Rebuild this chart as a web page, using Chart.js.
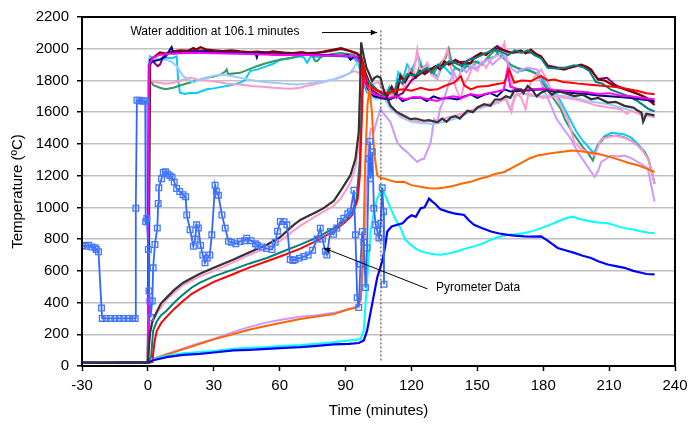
<!DOCTYPE html>
<html>
    <head>
        <title>Temperature</title>
        <meta charset="UTF-8">
        <script src="https://cdn.jsdelivr.net/npm/chart.js@4.4.0/dist/chart.umd.min.js"></script>
        <style>
            body { margin: 0; background: #fff; }
        </style>
    </head>
    <body>
        <canvas id="myChart" width="697" height="427"></canvas>
        <script>
            // tick labels
            const xTicks = [-30, 0, 30, 60, 90, 120, 150, 180, 210, 240];
            const yTicks = [0, 200, 400, 600, 800, 1000, 1200, 1400, 1600, 1800, 2000, 2200];

            // before heating, all thermocouples sit near room temperature
            const preheat = [[-30, 22], [-20, 20], [-10, 23], [-1, 21]];

            const maroon = [[0, 20], [0.4, 900], [1, 1930], [3, 1950], [5.5, 1977], [8, 1970], [11.6, 1983], [15, 1990], [18, 1985], [20.7, 2004], [22, 1995], [24, 2010], [26.8, 1994], [30, 1990], [34, 1985], [38, 1990], [42, 1983], [46, 1978], [50, 1982], [54, 1975], [57, 1983], [62, 1976], [66, 1972], [70, 1978], [72.5, 1973], [76, 1970], [80, 1982], [84.6, 1994], [88, 2004], [91, 1990], [95, 1973], [97, 1950], [99, 1850], [101, 1780], [104, 1740], [107, 1720], [109, 1700], [111, 1760], [113, 1700], [115, 1827], [117, 1790], [119.6, 1848], [122, 1820], [124, 1860], [126, 1840], [128.8, 1869], [131, 1890], [133, 1870], [135, 1920], [137, 1900], [140, 1930], [143, 1905], [147, 1911], [149, 1950], [151.6, 1973], [154, 1960], [156, 1985], [159.2, 2004], [162, 1990], [165.3, 1973], [168, 1985], [170, 1988], [172, 1970], [174.4, 1994], [177, 1965], [179, 1952], [182, 1890], [185, 1880], [189.6, 1869], [193, 1885], [197.3, 1900], [200, 1885], [201.8, 1869], [204.9, 1806], [208, 1800], [212.5, 1765], [216, 1750], [220.1, 1734], [224, 1710], [227, 1690], [230.7, 1645]];

            const navy = [[0, 20], [0.5, 1900], [2, 1920], [5.5, 1931], [8, 1950], [10.8, 2010], [11.6, 1970], [15, 1975], [20, 1980], [26.8, 1983], [30, 1978], [40, 1975], [49, 1970], [49.6, 1945], [50.2, 1972], [57.2, 1963], [65, 1965], [72, 1962], [80, 1960], [88, 1955], [91, 1960], [92.2, 1931], [94, 1950], [96, 1940], [98, 1850], [100, 1750], [103, 1700], [106, 1690], [110, 1680], [113.5, 1702], [116, 1670], [120, 1690], [124.2, 1692], [127, 1670], [130, 1700], [133, 1685], [137, 1690], [141, 1680], [144, 1700], [147, 1713], [150, 1690], [153, 1710], [156, 1720], [159, 1700], [162.3, 1744], [165, 1730], [170, 1735], [175, 1740], [180, 1745], [185, 1730], [190, 1725], [195, 1720], [200, 1715], [205, 1705], [210, 1700], [215, 1695], [220, 1690], [225, 1680], [230.7, 1670]];

            const magenta = [[0, 20], [0.6, 1900], [2, 1940], [5, 1960], [10, 1968], [20, 1975], [30, 1972], [40, 1968], [50, 1965], [60, 1960], [70, 1962], [80, 1958], [90, 1955], [95, 1950], [97, 1900], [99, 1780], [102, 1720], [106, 1700], [110, 1690], [113, 1700], [117, 1680], [121, 1695], [124.2, 1692], [128, 1680], [131.8, 1671], [135, 1690], [139, 1700], [143, 1690], [147, 1713], [151, 1705], [155, 1720], [159, 1730], [162, 1740], [163.7, 1869], [165, 1760], [170, 1740], [175, 1745], [180, 1750], [185, 1740], [190, 1735], [195, 1730], [200, 1725], [205, 1715], [210, 1720], [215, 1705], [220, 1700], [225, 1690], [230.7, 1681]];

            const purple = [[0, 20], [0.5, 1850], [1.5, 1930], [3, 1910], [4.5, 1890], [5.5, 1900], [7, 1950], [10, 1975], [15, 1985], [20, 1990], [30, 1985], [40, 1980], [50, 1978], [60, 1975], [70, 1972], [80, 1978], [85, 1990], [88, 1998], [92, 1985], [95, 1970], [97, 1930], [99, 1820], [102, 1740], [106, 1700], [110, 1680], [113.7, 1704], [116, 1720], [120, 1800], [125, 1850], [130, 1880], [135, 1900], [140, 1915], [145, 1920], [150, 1960], [155, 1975], [159, 2017], [162, 1990], [166, 1975], [170, 1980], [175, 1975], [179, 1950], [182, 1895], [187, 1880], [192, 1880], [197, 1895], [202, 1860], [205, 1810], [209, 1817], [213, 1770], [218, 1740], [223, 1715], [227, 1690], [230.7, 1660]];

            const teal = [[0, 20], [1.5, 60], [2.4, 223], [4, 280], [6, 320], [8.5, 348], [12, 400], [16, 450], [20, 495], [23.7, 525], [30, 565], [39, 609], [46, 645], [54.2, 681], [62, 725], [69.4, 765], [77, 810], [84.6, 869], [90, 920], [93, 970], [95, 1050], [96.5, 1300], [97.5, 1700], [98.5, 1850], [100, 1800], [103, 1760], [106, 1720], [108, 1700], [110, 1740], [112, 1720], [114, 1800], [116, 1780], [118, 1840], [121, 1830], [124, 1850], [127, 1880], [129, 1850], [132, 1900], [134, 1880], [137, 1920], [140, 1910], [143, 1890], [146, 1930], [149, 1940], [152, 1960], [155, 1980], [158, 1995], [161, 1980], [164, 1960], [167, 1990], [170, 1975], [173, 1990], [176, 1960], [179, 1940], [182, 1880], [186, 1875], [190, 1880], [194, 1895], [198, 1885], [201, 1860], [204, 1790], [207, 1780], [211, 1740], [215, 1720], [219, 1700], [223, 1670], [226, 1640], [228, 1620], [230.7, 1605]];

            const red = [[0, 20], [2, 25], [3, 150], [4, 220], [6, 270], [8.5, 310], [12, 360], [16, 410], [20, 455], [23.7, 484], [30, 530], [39, 580], [46, 620], [54.2, 660], [62, 700], [69.4, 740], [77, 790], [84.6, 850], [90, 910], [93, 950], [95.5, 1050], [96.5, 1200], [97.5, 1600], [98, 1900], [98.7, 1850], [99.5, 1780], [101, 1760], [104, 1740], [107, 1720], [110.5, 1723], [113, 1740], [116.6, 1744], [120, 1735], [124.2, 1754], [128, 1740], [131.8, 1744], [135, 1765], [139.4, 1786], [142.5, 1827], [144, 1770], [147, 1744], [150, 1760], [154.7, 1765], [158, 1775], [162.3, 1786], [164.5, 1869], [166.8, 1786], [170, 1800], [174.4, 1796], [179, 1827], [182, 1800], [185, 1806], [189, 1790], [192.7, 1786], [196, 1780], [200.3, 1775], [204, 1770], [207.9, 1765], [212, 1760], [215.5, 1754], [219, 1745], [223.1, 1734], [227, 1720], [230.7, 1713]];

            const darkGray = [[0, 20], [0.5, 120], [0.9, 204], [2, 280], [4, 340], [6, 395], [8.5, 431], [12, 480], [16.1, 525], [20, 555], [23.7, 581], [30, 619], [39, 671], [46, 715], [54.2, 765], [60, 810], [66.4, 890], [69.4, 921], [73, 945], [77, 973], [80, 995], [84.6, 1040], [88, 1110], [92.2, 1202], [94.5, 1306], [96, 1473], [96.6, 1750], [97.1, 2040], [97.6, 2000], [98.3, 1952], [99.5, 1880], [100.6, 1848], [102.1, 1796], [103, 1815], [104.4, 1827], [105.9, 1817], [107.5, 1734], [110.5, 1640], [113, 1605], [115.1, 1588], [119.6, 1556], [122, 1560], [125.7, 1546], [128, 1550], [131.8, 1536], [134, 1560], [136, 1540], [137.9, 1567], [140, 1575], [142, 1560], [145.5, 1609], [148, 1600], [150, 1630], [153.1, 1650], [156, 1640], [158, 1680], [160.7, 1681], [163, 1700], [165, 1690], [167, 1740], [169.9, 1744], [171, 1720], [172.9, 1765], [175, 1740], [177, 1700], [179, 1723], [182, 1740], [184, 1710], [186.6, 1734], [190, 1720], [194.2, 1702], [198, 1710], [201.8, 1681], [205, 1690], [209.4, 1661], [213, 1665], [217, 1640], [221, 1629], [223, 1610], [224.7, 1598], [225.5, 1540], [227, 1590], [230.7, 1580]];

            const lightBlue = [[0, 20], [0.4, 1850], [0.9, 1942], [4, 1935], [8.5, 1931], [11, 1915], [13.1, 1890], [16.1, 1827], [20.7, 1786], [23, 1800], [26.8, 1817], [30, 1830], [34.4, 1838], [38, 1828], [42, 1817], [46, 1805], [49.6, 1796], [53, 1790], [57.2, 1786], [62, 1780], [67.9, 1775], [72, 1780], [75.5, 1786], [80, 1795], [84.6, 1806], [89, 1825], [92.2, 1848], [95.3, 1911], [97, 1900], [99, 1780], [101, 1700], [104, 1680], [106, 1700], [108, 1680], [110.5, 1620], [115, 1570], [120, 1540], [125, 1530], [130, 1525], [135, 1540], [140, 1560], [145, 1590], [150, 1620], [155, 1640], [160, 1660], [163, 1700], [165, 1620], [167, 1700], [170, 1720], [175, 1700], [180, 1700], [185, 1710], [190, 1700], [195, 1690], [200, 1670], [205, 1660], [210, 1650], [215, 1630], [220, 1610], [225, 1590], [230.7, 1570]];

            const pinkRise = [[0, 20], [0.3, 100], [0.8, 200], [2, 270], [4, 330], [8.5, 420], [16, 510], [23.7, 565], [30, 600], [39, 655], [46, 700], [54.2, 745], [60, 785], [66, 850], [70, 890], [77, 950], [84.6, 1010], [88, 1060], [92, 1150], [94.5, 1250], [96, 1400], [97, 1700], [98, 1820], [99.5, 1780], [101, 1760], [103, 1780], [105, 1790], [107, 1740], [110, 1650], [113, 1600], [116, 1570], [120, 1550], [125, 1540], [130, 1545], [135, 1560], [140, 1580], [145, 1600], [150, 1625], [155, 1650], [160, 1670], [163, 1680], [165.5, 1600], [167, 1700], [170, 1720], [175, 1710], [180, 1690], [185, 1700], [190, 1690], [195, 1680], [200, 1660], [205, 1640], [210, 1630], [215, 1620], [218, 1590], [220, 1610], [225, 1580], [230.7, 1570]];

            const pinkHigh = [[0, 20], [0.4, 1780], [0.9, 1806], [3, 1790], [5.5, 1786], [8, 1780], [11.6, 1786], [15, 1800], [19.2, 1817], [23, 1805], [26.8, 1800], [32, 1790], [36, 1780], [42, 1775], [47, 1765], [52, 1760], [57.2, 1754], [62, 1750], [65, 1748], [69.4, 1754], [72, 1765], [75.5, 1775], [80, 1790], [84.6, 1806], [88, 1825], [91, 1840], [93.8, 1859], [96, 1850], [98, 1800], [100, 1750], [102, 1730], [105, 1720], [108, 1740], [111, 1700], [113, 1760], [115, 1800], [117, 1750], [119, 1880], [120.5, 1800], [122.6, 1994], [124, 1850], [125.5, 1880], [127.2, 1911], [129, 1840], [131.8, 1806], [133, 1880], [135, 1940], [136.4, 1994], [138, 1880], [140, 1760], [142.5, 1681], [144, 1780], [146, 1820], [148, 1900], [150, 1860], [152, 1920], [154, 1880], [156, 1930], [158, 1950], [160, 1960], [162.3, 2036], [164, 1900], [165.5, 1800], [166.8, 1681], [168, 1720], [170, 1690], [172, 1619], [174, 1780], [176, 1820], [179, 1869], [181, 1820], [183, 1760], [185, 1723], [188, 1640], [191.2, 1556], [194.2, 1411], [197, 1370], [200.3, 1348], [203.4, 1327], [206.4, 1431], [209, 1440], [212.5, 1452], [215, 1445], [218.6, 1431], [221, 1410], [224.7, 1369], [227.7, 1306], [229.5, 1220], [230.7, 1150]];

            const skyBlue = [[0, 20], [0.3, 1900], [0.9, 1952], [4, 1931], [8, 1945], [11, 1940], [13.1, 1952], [13.8, 1800], [14.6, 1723], [17, 1715], [19.2, 1723], [22, 1720], [26.8, 1744], [30, 1750], [33, 1758], [35.9, 1765], [39, 1775], [42, 1786], [44, 1800], [46.6, 1859], [50, 1870], [54.2, 1890], [57, 1905], [60.3, 1931], [65, 1940], [69.4, 1952], [71, 1945], [72.5, 1911], [74, 1950], [78, 1950], [82, 1955], [87.7, 1952], [93.8, 1942], [96, 1900], [98, 1780], [100, 1720], [103, 1700], [106, 1690], [108, 1710], [110, 1760], [112, 1700], [114, 1850], [116, 1800], [118, 1900], [120, 1860], [123, 1960], [125, 1880], [127, 1900], [130, 1850], [132, 1820], [134, 1900], [136, 1870], [138, 1840], [140, 1880], [142, 1860], [145, 1900], [147, 1870], [150, 1920], [152, 1900], [155, 1940], [158, 1950], [160, 1990], [162, 1950], [165, 1900], [168, 1880], [170, 1860], [173, 1870], [176, 1850], [179, 1830], [181, 1780], [183, 1740], [186, 1720], [189, 1640], [192, 1560], [195, 1480], [198, 1420], [200, 1390], [203, 1340], [205, 1400], [207.9, 1450], [211, 1470], [214, 1465], [217, 1460], [220.1, 1440], [223, 1400], [226.2, 1348], [228, 1300], [230.7, 1150]];

            const seaGreen = [[0, 20], [0.5, 300], [0.9, 1806], [2.5, 1770], [5.5, 1754], [8, 1745], [11.6, 1754], [15, 1770], [20, 1790], [26.8, 1817], [30, 1825], [33, 1835], [35.5, 1860], [35.9, 1869], [36.5, 1840], [42, 1848], [46, 1870], [49.6, 1890], [53, 1905], [57.2, 1921], [60, 1930], [64.8, 1942], [69, 1955], [72.5, 1963], [75, 1960], [76, 1925], [77, 1921], [79, 1950], [83, 1965], [87.7, 1973], [93.8, 1963], [96, 1920], [98, 1800], [100, 1730], [103, 1700], [106, 1700], [109, 1720], [111, 1760], [113, 1700], [115, 1840], [117, 1800], [120, 1870], [122, 1820], [124, 1900], [126, 1860], [128, 1880], [130, 1840], [132, 1890], [134, 1920], [135.5, 1940], [137, 2000], [138.5, 1900], [140, 1880], [143, 1860], [146, 1900], [149, 1920], [152, 1900], [155, 1950], [158, 1990], [160, 1960], [162, 1940], [165, 1900], [168, 1880], [171, 1870], [174, 1860], [177, 1840], [180, 1780], [183, 1720], [185, 1680], [188, 1620], [190, 1550], [193, 1480], [195, 1440], [198, 1380], [200, 1350], [202.6, 1296], [204.9, 1390], [207.9, 1442], [211, 1450], [214, 1452], [217, 1440], [220.1, 1421], [223, 1390], [226.2, 1348], [228, 1300], [230.7, 1150]];

            const lavender = [[0, 20], [1, 25], [3, 50], [8.5, 75], [16, 110], [23.7, 145], [30, 170], [39, 215], [46, 245], [54.2, 275], [62, 295], [69.4, 310], [77, 320], [84.6, 335], [91.5, 360], [95, 375], [97, 450], [99, 900], [100.5, 1400], [101.5, 1494], [103, 1480], [104.5, 1560], [105.9, 1619], [108, 1580], [110.5, 1536], [113.5, 1411], [116, 1370], [118.1, 1348], [120, 1320], [122.7, 1286], [124, 1300], [125.7, 1306], [127, 1350], [128.8, 1411], [130.3, 1556], [131.8, 1536], [133, 1620], [134.8, 1681], [137, 1780], [139.4, 1848], [141, 1800], [143, 1880], [145, 1850], [147, 1890], [149, 1870], [151, 1900], [154.7, 1931], [157, 1900], [160, 1940], [162.3, 1952], [164, 1900], [166, 1870], [168.3, 1848], [170, 1869], [173, 1880], [177.4, 1869], [179, 1786], [181, 1720], [183.6, 1640], [186, 1560], [189, 1500], [192.7, 1431], [195.7, 1348], [198.8, 1286], [201, 1240], [203.4, 1192], [205, 1230], [206.4, 1286], [208, 1300], [210.9, 1327], [214, 1320], [217, 1327], [220, 1310], [223.1, 1286], [225, 1270], [227.6, 1244], [229, 1150], [230.7, 1036]];

            const orange = [[0, 20], [1, 25], [3, 45], [8.5, 73], [16, 105], [23.7, 140], [30, 168], [39, 202], [46, 228], [54.2, 254], [62, 276], [69.4, 296], [77, 312], [84.6, 327], [91.5, 358], [95.3, 369], [97, 420], [98, 700], [99, 1300], [100, 1650], [101, 1748], [102, 1600], [103, 1350], [104.4, 1202], [106, 1185], [108, 1181], [110, 1170], [113, 1160], [116.6, 1161], [120, 1140], [124, 1130], [128, 1120], [131.8, 1119], [135, 1125], [139, 1135], [143, 1150], [147, 1161], [151, 1180], [155, 1195], [158, 1210], [162.3, 1223], [166, 1250], [170, 1280], [174, 1310], [177.4, 1327], [181, 1335], [185, 1345], [189, 1350], [192.7, 1359], [196, 1355], [200.3, 1348], [204, 1340], [207.9, 1327], [211, 1315], [215.5, 1296], [219, 1280], [223.1, 1265], [227, 1245], [230.7, 1223]];

            const cyan = [[0, 20], [1, 25], [3, 45], [8.5, 65], [16, 80], [23.7, 88], [30, 95], [39, 108], [46, 115], [54.2, 120], [62, 128], [69.4, 132], [77, 140], [84.6, 150], [91.5, 161], [96.8, 170], [98.3, 223], [99.8, 536], [101.4, 848], [103, 980], [104.4, 1056], [106.7, 1119], [108.5, 1060], [110.5, 994], [112.5, 930], [115.1, 869], [117, 800], [119.6, 765], [122, 740], [124.2, 723], [127.2, 713], [130, 705], [133.3, 702], [137, 710], [141, 723], [144.5, 740], [148.5, 754], [152, 770], [156.2, 796], [160, 815], [163.8, 827], [167, 830], [171.4, 838], [175, 850], [179, 869], [183, 890], [186.6, 911], [190, 930], [193.5, 942], [197, 925], [201.8, 911], [205, 905], [209.4, 900], [213, 885], [217, 869], [221, 860], [224.7, 848], [228, 840], [230.7, 838]];

            const blue = [[0, 20], [2.4, 36], [8.5, 56], [16, 70], [23.7, 77], [30, 85], [39, 98], [46, 102], [54.2, 108], [62, 114], [69.4, 119], [77, 127], [84.6, 136], [91.5, 140], [96, 145], [98.3, 161], [99.8, 223], [102.1, 390], [104.4, 556], [106.7, 661], [108, 750], [109, 848], [111, 879], [113.5, 890], [116, 900], [118.1, 931], [120, 950], [122, 940], [124.2, 994], [126, 1000], [128, 1055], [129.5, 1036], [131, 1020], [133, 990], [136.4, 973], [140, 960], [144, 952], [146, 920], [148.5, 890], [152, 870], [156.2, 848], [160, 835], [163.8, 827], [167, 822], [171.4, 817], [175, 815], [179, 817], [182, 790], [186.6, 744], [190, 730], [194.2, 713], [198, 695], [201.8, 681], [205, 660], [209.4, 640], [213, 630], [217, 619], [221, 600], [224.7, 588], [227, 580], [230.7, 577]];

            const pyrometer = [[-30, 760], [-28.5, 755], [-27, 762], [-25.5, 750], [-24, 745], [-23.5, 735], [-22.5, 720], [-21.1, 365], [-20.8, 300], [-19, 300], [-17, 300], [-15, 300], [-13, 300], [-11, 300], [-9, 300], [-7, 300], [-5.8, 300], [-5.5, 994], [-5, 1675], [-4, 1675], [-3, 1670], [-2, 1670], [-1.2, 1670], [-1, 910], [-0.5, 930], [0.2, 735], [0.5, 473], [0.9, 410], [1.2, 306], [2, 410], [2.4, 619], [3.2, 766], [4.3, 869], [4.7, 1025], [5, 1123], [6.2, 1180], [7, 1220], [8, 1225], [9, 1210], [10, 1200], [11, 1190], [12, 1160], [13.1, 1119], [14.5, 1100], [16, 1080], [17.2, 1067], [17.7, 952], [19.2, 859], [20.7, 754], [21.5, 800], [22.2, 890], [23, 870], [24, 760], [25, 700], [26, 650], [27, 680], [28.2, 700], [29.1, 827], [30.6, 1140], [31.2, 1100], [32.1, 1077], [33.7, 952], [35.2, 869], [36.7, 786], [38, 780], [40, 770], [42, 785], [44, 790], [45, 806], [47, 790], [49, 770], [50, 760], [52, 750], [54, 740], [56.5, 734], [58, 780], [59, 850], [60.3, 911], [62, 910], [63.3, 890], [64.8, 671], [66, 665], [67, 670], [69, 680], [71, 690], [73, 700], [75, 730], [77, 800], [78.5, 869], [79.5, 800], [80.8, 723], [81.5, 700], [83.1, 848], [84.5, 830], [86, 870], [87.7, 911], [89.2, 931], [91, 960], [92.2, 973], [93.8, 1108], [94.5, 827], [95.3, 431], [96, 369], [96.8, 642], [97.6, 848], [98.3, 780], [99.1, 494], [99.8, 744], [100.6, 1306], [101.1, 1415], [101.4, 1181], [102.2, 1350], [102.9, 994], [103.7, 890], [104.5, 850], [105.2, 806], [106, 900], [106.7, 1123], [107.3, 973], [107.5, 515]];

            // annotations, in data units
            const waterTime = 106.1;
            const waterText = 'Water addition at 106.1 minutes';
            const pyroText = 'Pyrometer Data';

            function toXY(pairs) {
                return pairs.map(p => ({x: p[0], y: p[1]}));
            }

            function line(label, pts, colour, width, withPre) {
                let all = withPre ? preheat.concat(pts) : pts;
                return {
                    label: label,
                    data: toXY(all),
                    borderColor: colour,
                    backgroundColor: colour,
                    borderWidth: width,
                    pointRadius: 0,
                    tension: 0,
                    fill: false
                };
            }

            let pyroSet = line('Pyrometer Data', pyrometer, '#3366FF', 1.8, false);
            pyroSet.pointStyle = 'rect';
            pyroSet.pointRadius = 4;
            pyroSet.pointBorderWidth = 1.3;
            pyroSet.pointBackgroundColor = 'rgba(255,255,255,0)';
            pyroSet.pointBorderColor = '#4477FF';

            // first dataset is drawn on top
            const datasets = [
                pyroSet,
                line('TC dark', darkGray, '#333333', 2.2, true),
                line('TC blue', blue, '#0000FF', 2.2, true),
                line('TC cyan', cyan, '#00FFFF', 2, true),
                line('TC orange', orange, '#FF6600', 2, true),
                line('TC red', red, '#FF0000', 2, true),
                line('TC magenta', magenta, '#FF00FF', 2, true),
                line('TC navy', navy, '#000080', 2, true),
                line('TC teal', teal, '#008080', 2, true),
                line('TC maroon', maroon, '#800000', 2.2, true),
                line('TC purple', purple, '#800080', 2, true),
                line('TC pink rise', pinkRise, '#FF99CC', 2, true),
                line('TC light blue', lightBlue, '#99CCFF', 2, true),
                line('TC lavender', lavender, '#CC99FF', 2, true),
                line('TC pink', pinkHigh, '#FF99CC', 2, true),
                line('TC green', seaGreen, '#339966', 2, true),
                line('TC sky', skyBlue, '#00CCFF', 2, true)
            ];

            function arrowHead(ctx, x1, y1, x2, y2, size) {
                let a = Math.atan2(y2 - y1, x2 - x1);
                ctx.beginPath();
                ctx.moveTo(x2, y2);
                ctx.lineTo(x2 - size * Math.cos(a - 0.4), y2 - size * Math.sin(a - 0.4));
                ctx.lineTo(x2 - size * Math.cos(a + 0.4), y2 - size * Math.sin(a + 0.4));
                ctx.closePath();
                ctx.fill();
            }

            const notes = {
                id: 'notes',
                afterDatasetsDraw(chart) {
                    const ctx = chart.ctx;
                    const xs = chart.scales.x, ys = chart.scales.y;
                    const area = chart.chartArea;
                    ctx.save();

                    // frame round the plot
                    ctx.strokeStyle = '#000';
                    ctx.lineWidth = 2;
                    ctx.strokeRect(area.left, area.top, area.right - area.left, area.bottom - area.top);

                    // dotted line at water addition
                    let wx = xs.getPixelForValue(waterTime);
                    ctx.strokeStyle = '#333';
                    ctx.lineWidth = 1;
                    ctx.setLineDash([2, 2]);
                    ctx.beginPath();
                    ctx.moveTo(wx, ys.getPixelForValue(2115));
                    ctx.lineTo(wx, ys.getPixelForValue(35));
                    ctx.stroke();
                    ctx.setLineDash([]);

                    ctx.fillStyle = '#000';
                    ctx.strokeStyle = '#000';
                    ctx.font = '12px "Liberation Sans", Arial, sans-serif';
                    ctx.textBaseline = 'middle';

                    // water addition label and arrow
                    let ay = ys.getPixelForValue(2102);
                    ctx.textAlign = 'right';
                    ctx.fillText(waterText, xs.getPixelForValue(69), ay - 1);
                    let ax1 = xs.getPixelForValue(79.3), ax2 = xs.getPixelForValue(104.4);
                    ctx.beginPath();
                    ctx.moveTo(ax1, ay);
                    ctx.lineTo(ax2, ay);
                    ctx.stroke();
                    arrowHead(ctx, ax1, ay, ax2, ay, 7);

                    // pyrometer label and arrow
                    ctx.textAlign = 'left';
                    ctx.fillText(pyroText, xs.getPixelForValue(131.2), ys.getPixelForValue(491));
                    let px1 = xs.getPixelForValue(127.3), py1 = ys.getPixelForValue(486);
                    let px2 = xs.getPixelForValue(80.1), py2 = ys.getPixelForValue(744);
                    ctx.beginPath();
                    ctx.moveTo(px1, py1);
                    ctx.lineTo(px2, py2);
                    ctx.stroke();
                    arrowHead(ctx, px1, py1, px2, py2, 7);

                    ctx.restore();
                }
            };

            const tickFont = {family: '"Liberation Sans", Arial, sans-serif', size: 15};

            new Chart(document.getElementById('myChart').getContext('2d'), {
                type: 'line',
                data: {datasets: datasets},
                options: {
                    responsive: false,
                    animation: false,
                    devicePixelRatio: 1,
                    layout: {padding: {left: 0, top: 12, right: 22, bottom: 0}},
                    plugins: {
                        legend: {display: false},
                        tooltip: {enabled: false}
                    },
                    scales: {
                        x: {
                            type: 'linear',
                            min: -30,
                            max: 240,
                            afterBuildTicks: s => { s.ticks = xTicks.map(v => ({value: v})); },
                            afterFit: s => { s.height = 61; },
                            ticks: {font: tickFont, color: '#000', padding: 6, maxRotation: 0, callback: v => String(v)},
                            grid: {display: true, drawOnChartArea: false, tickLength: 5, tickColor: '#000', tickWidth: 1.5},
                            border: {display: true, color: '#000', width: 2},
                            title: {display: true, text: 'Time (minutes)', font: tickFont, color: '#000', padding: {top: 0, bottom: 7}}
                        },
                        y: {
                            type: 'linear',
                            min: 0,
                            max: 2200,
                            afterBuildTicks: s => { s.ticks = yTicks.map(v => ({value: v})); },
                            afterFit: s => { s.width = 82; },
                            ticks: {font: tickFont, color: '#000', padding: 8, callback: v => String(v)},
                            grid: {color: '#c0c0c0', lineWidth: 1.5, tickLength: 5, tickColor: '#000', tickWidth: 1.5},
                            border: {display: true, color: '#000', width: 2},
                            title: {display: true, text: 'Temperature (ºC)', font: tickFont, color: '#000', padding: {top: 9, bottom: 0}}
                        }
                    }
                },
                plugins: [notes]
            });
        </script>
    </body>
</html>
